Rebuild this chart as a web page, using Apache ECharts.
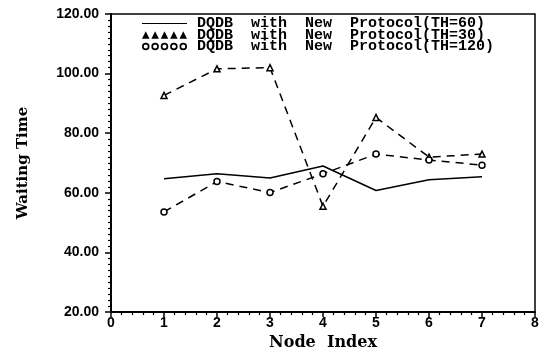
<!DOCTYPE html>
<html>
<head>
<meta charset="utf-8">
<script src="https://cdn.jsdelivr.net/npm/echarts@6/dist/echarts.min.js"></script>
<style>
  html, body { margin: 0; padding: 0; background: #fff; }
  #chart { width: 542px; height: 356px; }
</style>
</head>
<body>
<div id="chart"></div>
<script>
  // 数据（从图上读出来的）
  var nodes = [1, 2, 3, 4, 5, 6, 7]
  var th60 = [64.7, 66.4, 65.0, 69.0, 60.8, 64.4, 65.4]
  var th30 = [92.7, 101.6, 102.0, 55.5, 85.3, 72.0, 73.0]
  var th120 = [53.6, 63.8, 60.1, 66.4, 73.0, 71.0, 69.3]
  var names = [
    'DQDB  with  New  Protocol(TH=60)',
    'DQDB  with  New  Protocol(TH=30)',
    'DQDB  with  New  Protocol(TH=120)'
  ]

  function pairs (ys) {
    return nodes.map(function (x, i) { return [x, ys[i]] })
  }

  // 图例里的五个三角 / 五个圆
  var triIcon = 'path://M0,8L4,0L8,8ZM10,8L14,0L18,8ZM20,8L24,0L28,8ZM30,8L34,0L38,8ZM40,8L44,0L48,8Z'
  var ring = function (x) {
    return 'M' + x + ',4a4,4 0 1,0 8,0a4,4 0 1,0 -8,0Z' +
      'M' + (x + 1.8) + ',4a2.2,2.2 0 1,1 4.4,0a2.2,2.2 0 1,1 -4.4,0Z'
  }
  var circIcon = 'path://' + ring(0) + ring(10) + ring(20) + ring(30) + ring(40)

  var axisFont = { fontFamily: 'Liberation Sans', fontSize: 14, fontWeight: 'bold', color: '#000' }
  var legendItem = { color: '#000', borderWidth: 0 }

  var option = {
    animation: false,
    backgroundColor: '#fff',
    grid: { left: 111, right: 7, top: 14, bottom: 38, show: true, borderColor: '#000', borderWidth: 1.5 },
    legend: {
      orient: 'vertical',
      left: 137,
      top: 11,
      itemGap: -3.5,
      itemWidth: 45,
      itemHeight: 7.5,
      textStyle: { fontFamily: 'Liberation Mono', fontWeight: 'bold', fontSize: 15, color: '#000', padding: [0, 0, 0, 5] },
      data: [
        { name: names[0], icon: 'path://M0,3.5L48,3.5L48,4.5L0,4.5Z', itemStyle: legendItem },
        { name: names[1], icon: triIcon, itemStyle: legendItem },
        { name: names[2], icon: circIcon, itemStyle: legendItem }
      ]
    },
    xAxis: {
      type: 'value',
      min: 0,
      max: 8,
      interval: 1,
      name: 'Node  Index',
      nameLocation: 'middle',
      nameGap: 19,
      nameTextStyle: { fontFamily: 'DejaVu Serif', fontWeight: 'bold', fontSize: 16, color: '#000' },
      axisLine: { lineStyle: { color: '#000', width: 2 } },
      axisTick: { length: 5, lineStyle: { color: '#000', width: 1.5 } },
      minorTick: { show: true, splitNumber: 5, length: 3, lineStyle: { color: '#000', width: 1.2 } },
      axisLabel: Object.assign({ margin: 4 }, axisFont),
      splitLine: { show: false }
    },
    yAxis: {
      type: 'value',
      min: 20,
      max: 120,
      interval: 20,
      name: 'Waiting Time',
      nameLocation: 'middle',
      nameGap: 80,
      nameTextStyle: { fontFamily: 'DejaVu Serif', fontWeight: 'bold', fontSize: 15, color: '#000' },
      axisLine: { lineStyle: { color: '#000', width: 2 } },
      axisTick: { length: 6, lineStyle: { color: '#000', width: 1.5 } },
      minorTick: { show: true, splitNumber: 10, length: 3, lineStyle: { color: '#000', width: 1.2 } },
      axisLabel: Object.assign({ margin: 12, formatter: function (v) { return v.toFixed(2) } }, axisFont),
      splitLine: { show: false }
    },
    series: [
      {
        name: names[0],
        type: 'line',
        data: pairs(th60),
        symbol: 'none',
        lineStyle: { color: '#000', width: 1.5 },
        itemStyle: { color: '#000' }
      },
      {
        name: names[1],
        type: 'line',
        data: pairs(th30),
        symbol: 'triangle',
        symbolSize: 6,
        lineStyle: { color: '#000', width: 1.5, type: [8, 6] },
        itemStyle: { color: '#fff', borderColor: '#000', borderWidth: 1.5 }
      },
      {
        name: names[2],
        type: 'line',
        data: pairs(th120),
        symbol: 'circle',
        symbolSize: 6,
        lineStyle: { color: '#000', width: 1.5, type: [8, 6] },
        itemStyle: { color: '#fff', borderColor: '#000', borderWidth: 1.5 }
      }
    ]
  }

  var myChart = echarts.init(document.getElementById('chart'), null, { renderer: 'canvas' })
  myChart.setOption(option)
</script>
</body>
</html>
